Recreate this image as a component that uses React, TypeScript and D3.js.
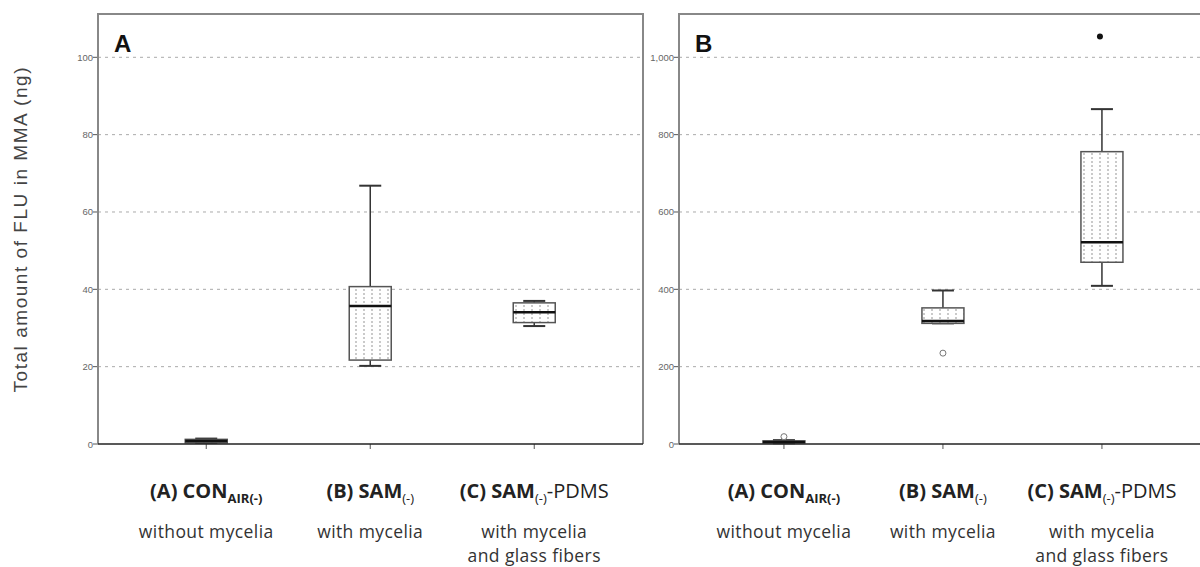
import React from "react";
import * as d3 from "d3";

// group labels (shared by both panels)
const groupKeys = ["A", "B", "C"];
const groupSub = ["without mycelia", "with mycelia", "with mycelia"];
const groupSub2 = ["", "", "and glass fibers"];

// panel A: FLU (ng), box statistics per group
const aLow = [0.3, 20.2, 30.5];
const aQ1 = [0.3, 21.7, 31.4];
const aMed = [0.8, 35.7, 34.1];
const aQ3 = [1.2, 40.7, 36.5];
const aHigh = [1.4, 66.8, 37.0];
const aTicks = [0, 20, 40, 60, 80, 100];

// panel B
const bLow = [2, 312, 409];
const bQ1 = [3, 312, 470];
const bMed = [5, 318, 522];
const bQ3 = [8, 352, 756];
const bHigh = [10, 397, 866];
const bTicks = [0, 200, 400, 600, 800, 1000];
const bOutliers = [
  { g: "A", v: 19, extreme: false },
  { g: "B", v: 235, extreme: false },
  { g: "C", v: 1054, extreme: true },
];

const W = 1200;
const H = 567;
const top = 14;
const bottom = 444;
const font = "'Open Sans', sans-serif";

function GroupLabel({ i, x }: { i: number; x: number }) {
  const head =
    i === 0 ? (
      <>
        <tspan fontWeight="bold">(A) CON</tspan>
        <tspan fontWeight="bold" fontSize="13" dy="5">AIR(-)</tspan>
      </>
    ) : i === 1 ? (
      <>
        <tspan fontWeight="bold">(B) SAM</tspan>
        <tspan fontSize="13" dy="5">(-)</tspan>
      </>
    ) : (
      <>
        <tspan fontWeight="bold">(C) SAM</tspan>
        <tspan fontSize="13" dy="5">(-)</tspan>
        <tspan dy="-5">-PDMS</tspan>
      </>
    );
  return (
    <g fontFamily={font} fill="#222" textAnchor="middle">
      <text x={x} y={498} fontSize="20">{head}</text>
      <text x={x} y={538} fontSize="17.5" fill="#333" letterSpacing="0.4">{groupSub[i]}</text>
      {groupSub2[i] && (
        <text x={x} y={562} fontSize="17.5" fill="#333" letterSpacing="0.4">{groupSub2[i]}</text>
      )}
    </g>
  );
}

function Panel(props: {
  left: number;
  right: number;
  ymax: number;
  ticks: number[];
  low: number[];
  q1: number[];
  med: number[];
  q3: number[];
  high: number[];
  outliers: { g: string; v: number; extreme: boolean }[];
  letter: string;
  step: number;
  fmt: (v: number) => string;
}) {
  const { left, right, ticks, low, q1, med, q3, high, outliers, letter, step } = props;
  const y = d3.scaleLinear().domain([0, props.ymax]).range([bottom, top]);
  const pad = 0.66;
  const x = d3
    .scalePoint<string>()
    .domain(groupKeys)
    .range([left, left + step * (2 + 2 * pad)])
    .padding(pad);
  const bw = 42;
  return (
    <g>
      {ticks.slice(1).map((t) => (
        <line key={"g" + t} x1={left} x2={right} y1={y(t)} y2={y(t)}
          stroke="#aaa" strokeDasharray="3,4" strokeWidth={1} />
      ))}
      {ticks.map((t) => (
        <g key={"t" + t}>
          <line x1={left - 5} x2={left} y1={y(t)} y2={y(t)} stroke="#555" />
          <text x={left - 5} y={y(t) + 3.5} fontSize="9.5" fill="#666"
            textAnchor="end" fontFamily="'Liberation Sans', Arial, sans-serif">{props.fmt(t)}</text>
        </g>
      ))}
      {groupKeys.map((g, i) => {
        const cx = x(g)!;
        return (
          <g key={g}>
            <line x1={cx} x2={cx} y1={y(high[i])} y2={y(q3[i])} stroke="#333" strokeWidth={1.5} />
            <line x1={cx} x2={cx} y1={y(q1[i])} y2={y(low[i])} stroke="#333" strokeWidth={1.5} />
            <line x1={cx - 11} x2={cx + 11} y1={y(high[i])} y2={y(high[i])} stroke="#333" strokeWidth={2} />
            <line x1={cx - 11} x2={cx + 11} y1={y(low[i])} y2={y(low[i])} stroke="#333" strokeWidth={2} />
            <rect x={cx - bw / 2} width={bw} y={y(q3[i])}
              height={Math.max(2, y(q1[i]) - y(q3[i]))}
              fill="url(#dots)" stroke="#555" strokeWidth={1.5} />
            <line x1={cx - bw / 2} x2={cx + bw / 2} y1={y(med[i])} y2={y(med[i])}
              stroke="#111" strokeWidth={2.5} />
            <line x1={cx} x2={cx} y1={bottom} y2={bottom + 5} stroke="#555" />
          </g>
        );
      })}
      {outliers.map((o, k) =>
        o.extreme ? (
          <circle key={k} cx={x(o.g)! - 2} cy={y(o.v)} r={3} fill="#111" />
        ) : (
          <circle key={k} cx={x(o.g)!} cy={y(o.v)} r={3} fill="#fff" stroke="#777" strokeWidth={1} />
        )
      )}
      <path d={`M${left},${bottom}V${top}H${right}V${bottom}`} fill="none" stroke="#888" strokeWidth={2} />
      <line x1={left} x2={right} y1={bottom} y2={bottom} stroke="#222" strokeWidth={1.5} />
      <text x={left + 16} y={52} fontSize="24" fontWeight="bold" fontFamily="'Liberation Sans', Arial, sans-serif" fill="#111">{letter}</text>
      {groupKeys.map((g, i) => <GroupLabel key={g} i={i} x={x(g)!} />)}
    </g>
  );
}

export default function App() {
  const fmt = d3.format(",");
  return (
    <svg width={W} height={H} style={{ position: "absolute", left: 0, top: 0, background: "#fff" }}>
      <defs>
        <pattern id="dots" width="8" height="4" patternUnits="userSpaceOnUse">
          <rect width="8" height="4" fill="#fff" />
          <circle cx="4" cy="2" r="0.8" fill="#888" />
        </pattern>
      </defs>
      <text transform="translate(27,230) rotate(-90)" textAnchor="middle"
        fontSize="19" fontFamily="'Liberation Sans', Arial, sans-serif" fill="#444"
        textLength={325} lengthAdjust="spacing">Total amount of FLU in MMA (ng)</text>
      <Panel left={98} right={643} ymax={111.2} ticks={aTicks} low={aLow} q1={aQ1} med={aMed}
        q3={aQ3} high={aHigh} outliers={[]} letter="A" step={164} fmt={fmt} />
      <Panel left={679} right={1212} ymax={1112} ticks={bTicks} low={bLow} q1={bQ1} med={bMed}
        q3={bQ3} high={bHigh} outliers={bOutliers} letter="B" step={159} fmt={fmt} />
    </svg>
  );
}
